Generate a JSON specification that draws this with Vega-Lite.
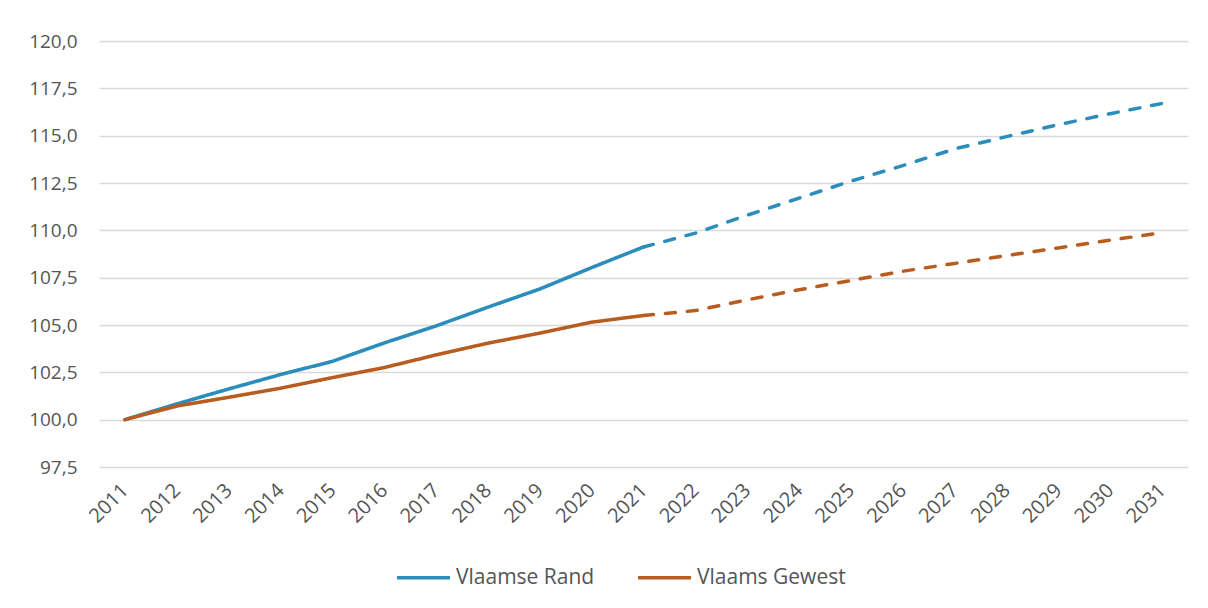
{
  "$schema": "https://vega.github.io/schema/vega-lite/v6.json",
  "autosize": {"type": "none"},
  "width": 1089,
  "height": 426,
  "padding": {"left": 99, "top": 41, "right": 20, "bottom": 141},
  "background": "white",
  "config": {
    "font": "Open Sans",
    "view": {"stroke": null}
  },
  "data": {
    "values": [
      {"jaar": "2011", "reeks": "Vlaamse Rand", "fase": "waarneming", "waarde": 100.0},
      {"jaar": "2012", "reeks": "Vlaamse Rand", "fase": "waarneming", "waarde": 100.83},
      {"jaar": "2013", "reeks": "Vlaamse Rand", "fase": "waarneming", "waarde": 101.62},
      {"jaar": "2014", "reeks": "Vlaamse Rand", "fase": "waarneming", "waarde": 102.38},
      {"jaar": "2015", "reeks": "Vlaamse Rand", "fase": "waarneming", "waarde": 103.08},
      {"jaar": "2016", "reeks": "Vlaamse Rand", "fase": "waarneming", "waarde": 104.05},
      {"jaar": "2017", "reeks": "Vlaamse Rand", "fase": "waarneming", "waarde": 104.95},
      {"jaar": "2018", "reeks": "Vlaamse Rand", "fase": "waarneming", "waarde": 105.94},
      {"jaar": "2019", "reeks": "Vlaamse Rand", "fase": "waarneming", "waarde": 106.9},
      {"jaar": "2020", "reeks": "Vlaamse Rand", "fase": "waarneming", "waarde": 108.03},
      {"jaar": "2021", "reeks": "Vlaamse Rand", "fase": "waarneming", "waarde": 109.12},
      {"jaar": "2021", "reeks": "Vlaamse Rand", "fase": "projectie", "waarde": 109.12},
      {"jaar": "2022", "reeks": "Vlaamse Rand", "fase": "projectie", "waarde": 109.85},
      {"jaar": "2023", "reeks": "Vlaamse Rand", "fase": "projectie", "waarde": 110.8},
      {"jaar": "2024", "reeks": "Vlaamse Rand", "fase": "projectie", "waarde": 111.7},
      {"jaar": "2025", "reeks": "Vlaamse Rand", "fase": "projectie", "waarde": 112.6},
      {"jaar": "2026", "reeks": "Vlaamse Rand", "fase": "projectie", "waarde": 113.42},
      {"jaar": "2027", "reeks": "Vlaamse Rand", "fase": "projectie", "waarde": 114.3},
      {"jaar": "2028", "reeks": "Vlaamse Rand", "fase": "projectie", "waarde": 114.95},
      {"jaar": "2029", "reeks": "Vlaamse Rand", "fase": "projectie", "waarde": 115.58},
      {"jaar": "2030", "reeks": "Vlaamse Rand", "fase": "projectie", "waarde": 116.16},
      {"jaar": "2031", "reeks": "Vlaamse Rand", "fase": "projectie", "waarde": 116.7},
      {"jaar": "2011", "reeks": "Vlaams Gewest", "fase": "waarneming", "waarde": 100.0},
      {"jaar": "2012", "reeks": "Vlaams Gewest", "fase": "waarneming", "waarde": 100.72},
      {"jaar": "2013", "reeks": "Vlaams Gewest", "fase": "waarneming", "waarde": 101.18},
      {"jaar": "2014", "reeks": "Vlaams Gewest", "fase": "waarneming", "waarde": 101.66},
      {"jaar": "2015", "reeks": "Vlaams Gewest", "fase": "waarneming", "waarde": 102.22},
      {"jaar": "2016", "reeks": "Vlaams Gewest", "fase": "waarneming", "waarde": 102.75},
      {"jaar": "2017", "reeks": "Vlaams Gewest", "fase": "waarneming", "waarde": 103.42},
      {"jaar": "2018", "reeks": "Vlaams Gewest", "fase": "waarneming", "waarde": 104.04},
      {"jaar": "2019", "reeks": "Vlaams Gewest", "fase": "waarneming", "waarde": 104.57},
      {"jaar": "2020", "reeks": "Vlaams Gewest", "fase": "waarneming", "waarde": 105.15},
      {"jaar": "2021", "reeks": "Vlaams Gewest", "fase": "waarneming", "waarde": 105.5},
      {"jaar": "2021", "reeks": "Vlaams Gewest", "fase": "projectie", "waarde": 105.5},
      {"jaar": "2022", "reeks": "Vlaams Gewest", "fase": "projectie", "waarde": 105.76},
      {"jaar": "2023", "reeks": "Vlaams Gewest", "fase": "projectie", "waarde": 106.33},
      {"jaar": "2024", "reeks": "Vlaams Gewest", "fase": "projectie", "waarde": 106.86},
      {"jaar": "2025", "reeks": "Vlaams Gewest", "fase": "projectie", "waarde": 107.35},
      {"jaar": "2026", "reeks": "Vlaams Gewest", "fase": "projectie", "waarde": 107.84},
      {"jaar": "2027", "reeks": "Vlaams Gewest", "fase": "projectie", "waarde": 108.25},
      {"jaar": "2028", "reeks": "Vlaams Gewest", "fase": "projectie", "waarde": 108.67},
      {"jaar": "2029", "reeks": "Vlaams Gewest", "fase": "projectie", "waarde": 109.07},
      {"jaar": "2030", "reeks": "Vlaams Gewest", "fase": "projectie", "waarde": 109.48},
      {"jaar": "2031", "reeks": "Vlaams Gewest", "fase": "projectie", "waarde": 109.88}
    ]
  },
  "mark": {"type": "line", "strokeWidth": 3.5, "strokeCap": "round", "strokeJoin": "round"},
  "encoding": {
    "x": {
      "field": "jaar",
      "type": "ordinal",
      "scale": {"type": "point", "padding": 0.5},
      "axis": {
        "title": null,
        "domain": false,
        "ticks": false,
        "grid": false,
        "labelAngle": -45,
        "labelAlign": "right",
        "labelBaseline": "middle",
        "labelPadding": 20,
        "labelDx": 5,
        "labelFontSize": 20,
        "labelColor": "#555555",
        "labelFont": "Open Sans"
      }
    },
    "y": {
      "field": "waarde",
      "type": "quantitative",
      "scale": {"domain": [97.5, 120], "nice": false, "zero": false},
      "axis": {
        "title": null,
        "values": [97.5, 100, 102.5, 105, 107.5, 110, 112.5, 115, 117.5, 120],
        "labelExpr": "replace(format(datum.value, '.1f'), '.', ',')",
        "domain": false,
        "ticks": false,
        "grid": true,
        "gridColor": "#d9d9d9",
        "gridWidth": 1.5,
        "labelPadding": 22,
        "labelFontSize": 19,
        "labelColor": "#555555",
        "labelFont": "Open Sans"
      }
    },
    "color": {
      "field": "reeks",
      "type": "nominal",
      "scale": {"domain": ["Vlaamse Rand", "Vlaams Gewest"], "range": ["#2b8dbb", "#b85c20"]},
      "legend": {
        "title": null,
        "orient": "none",
        "direction": "horizontal",
        "legendX": 296,
        "legendY": 508,
        "symbolType": "stroke",
        "symbolSize": 2800,
        "symbolStrokeWidth": 3.5,
        "labelFontSize": 21,
        "labelColor": "#555555",
        "labelFont": "Open Sans",
        "columnPadding": 36,
        "labelOffset": 4
      }
    },
    "strokeDash": {
      "field": "fase",
      "type": "nominal",
      "scale": {"domain": ["waarneming", "projectie"], "range": [[1, 0], [10, 12]]},
      "legend": null
    }
  }
}
